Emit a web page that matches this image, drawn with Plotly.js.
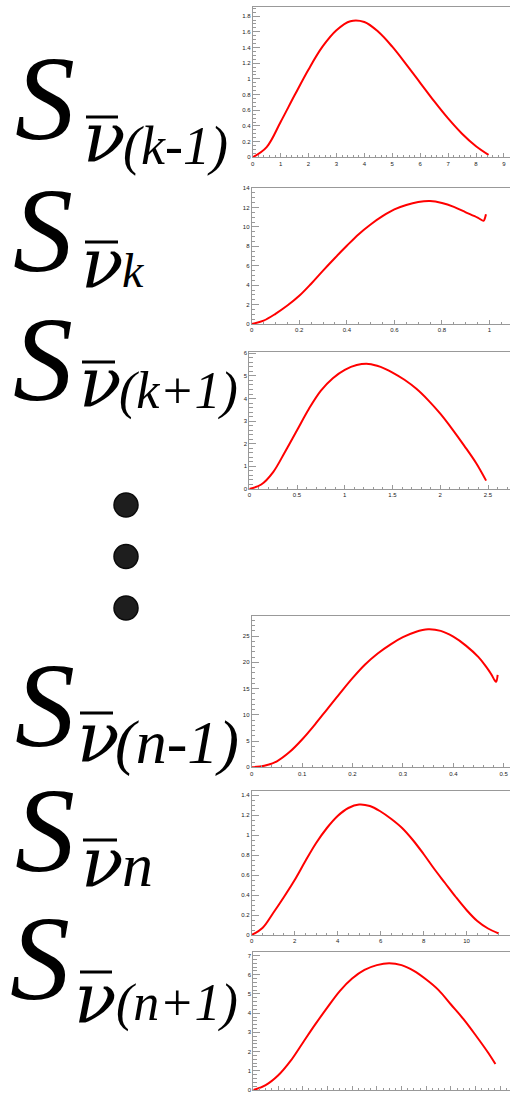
<!DOCTYPE html>
<html>
<head>
<meta charset="utf-8">
<script src="https://cdn.plot.ly/plotly-3.0.1.min.js"></script>
<style>
  html, body { margin: 0; padding: 0; background: #fff; }
  #chart { width: 510px; height: 1094px; }
</style>
</head>
<body>
<div id="chart"></div>
<script>
// spectra, top to bottom
const p1X = [0, 0.5, 1, 1.5, 2, 2.5, 3, 3.5, 4, 4.5, 5, 5.5, 6, 6.5, 7, 7.5, 8, 8.45];
const p1Y = [0, 0.13, 0.45, 0.79, 1.12, 1.41, 1.62, 1.735, 1.725, 1.60, 1.41, 1.185, 0.95, 0.715, 0.495, 0.30, 0.14, 0.03];

const p2X = [0, 0.05, 0.1, 0.15, 0.2, 0.25, 0.3, 0.35, 0.4, 0.45, 0.5, 0.55, 0.6, 0.65, 0.7, 0.75, 0.8, 0.85, 0.9, 0.95, 0.975, 0.98, 0.985];
const p2Y = [0, 0.35, 1.05, 1.9, 2.9, 4.15, 5.5, 6.8, 8.05, 9.25, 10.25, 11.1, 11.8, 12.25, 12.55, 12.65, 12.45, 12.05, 11.5, 10.95, 10.62, 10.85, 11.3];

const p3X = [0, 0.125, 0.25, 0.375, 0.5, 0.625, 0.75, 0.875, 1, 1.125, 1.25, 1.375, 1.5, 1.625, 1.75, 1.875, 2, 2.125, 2.25, 2.375, 2.48];
const p3Y = [0, 0.2, 0.75, 1.65, 2.6, 3.55, 4.35, 4.9, 5.27, 5.48, 5.53, 5.4, 5.15, 4.83, 4.43, 3.92, 3.33, 2.65, 1.92, 1.15, 0.37];

const p4X = [0, 0.025, 0.05, 0.075, 0.1, 0.125, 0.15, 0.175, 0.2, 0.225, 0.25, 0.275, 0.3, 0.325, 0.35, 0.375, 0.4, 0.425, 0.45, 0.465, 0.475, 0.482, 0.485, 0.488];
const p4Y = [0, 0.3, 1.15, 2.9, 5.3, 8.1, 11.1, 14.1, 17.0, 19.6, 21.7, 23.4, 24.8, 25.8, 26.3, 26.0, 24.9, 23.2, 21.0, 19.2, 17.8, 16.6, 16.3, 17.6];

const p5X = [0, 0.5, 1, 1.5, 2, 2.5, 3, 3.5, 4, 4.5, 5, 5.5, 6, 6.5, 7, 7.5, 8, 8.5, 9, 9.5, 10, 10.5, 11, 11.5];
const p5Y = [0, 0.07, 0.22, 0.38, 0.55, 0.74, 0.92, 1.07, 1.19, 1.27, 1.305, 1.29, 1.235, 1.16, 1.07, 0.95, 0.81, 0.66, 0.52, 0.38, 0.25, 0.14, 0.065, 0.015];

const p6X = [0, 0.1, 0.2, 0.3, 0.4, 0.5, 0.6, 0.7, 0.8, 0.9, 1, 1.1, 1.2, 1.3, 1.4, 1.5, 1.6, 1.7, 1.8, 1.9, 1.96];
const p6Y = [0, 0.25, 0.75, 1.5, 2.45, 3.4, 4.3, 5.15, 5.8, 6.25, 6.5, 6.6, 6.5, 6.2, 5.75, 5.2, 4.45, 3.7, 2.85, 1.95, 1.35];

const labelSubs = ['(k-1)', 'k', '(k+1)', '(n-1)', 'n', '(n+1)'];

const W = 510, H = 1094;
const px = v => v / W;
const py = v => 1 - v / H;

// panel frames in pixels: left, top, bottom (right edge is the page edge)
const frames = [
    { l: 252.7, t: 6.7, b: 157.3, xmax: 9.2, ymax: 1.92, dx: 1, mx: 0.2, dy: 0.2, my: 0.05 },
    { l: 251.7, t: 188, b: 324, xmax: 1.084, ymax: 14, dx: 0.2, mx: 0.05, dy: 2, my: 0.5 },
    { l: 249.3, t: 351.7, b: 489, xmax: 2.725, ymax: 6.07, dx: 0.5, mx: 0.1, dy: 1, my: 0.2 },
    { l: 251.7, t: 615.7, b: 767.3, xmax: 0.5115, ymax: 28.9, dx: 0.1, mx: 0.02, dy: 5, my: 1 },
    { l: 251.7, t: 791, b: 935, xmax: 12.0, ymax: 1.44, dx: 2, mx: 0.5, dy: 0.2, my: 0.05 },
    { l: 253.3, t: 951.7, b: 1090, xmax: 2.074, ymax: 7.2, dx: 0.2, mx: 0.05, dy: 1, my: 0.2 },
];
const series = [[p1X, p1Y], [p2X, p2Y], [p3X, p3Y], [p4X, p4Y], [p5X, p5Y], [p6X, p6Y]];

const tickFont = { family: 'Liberation Sans, Arial, sans-serif', size: 6, color: '#222' };
const axisBase = {
    showline: true, linecolor: '#999', linewidth: 1, mirror: true,
    showgrid: false, zeroline: false,
    ticks: 'inside', tickcolor: '#999', tickfont: tickFont,
    fixedrange: true,
};

const traces = [];
const layout = {
    width: W, height: H,
    margin: { l: 0, r: 0, t: 0, b: 0 },
    paper_bgcolor: '#fff', plot_bgcolor: '#fff',
    showlegend: false,
    annotations: [],
    shapes: [],
};

frames.forEach((f, i) => {
    const n = i + 1;
    const sfx = n === 1 ? '' : String(n);
    traces.push({
        x: series[i][0], y: series[i][1],
        type: 'scatter', mode: 'lines',
        line: { color: '#ff0000', width: 2, shape: 'spline', smoothing: 1 },
        xaxis: 'x' + sfx, yaxis: 'y' + sfx,
        hoverinfo: 'skip',
    });
    layout['xaxis' + sfx] = {
        ...axisBase,
        domain: [px(f.l), px(509.5)],
        anchor: 'y' + sfx,
        range: [0, f.xmax],
        dtick: f.dx, tick0: 0, ticklen: 4,
        minor: { dtick: f.mx, ticks: 'inside', ticklen: 2, tickcolor: '#999' },
    };
    layout['yaxis' + sfx] = {
        ...axisBase,
        domain: [py(f.b), py(f.t)],
        anchor: 'x' + sfx,
        range: [0, f.ymax],
        dtick: f.dy, tick0: 0, ticklen: 7,
        minor: { dtick: f.my, ticks: 'inside', ticklen: 3.5, tickcolor: '#999' },
    };
});

// S_{nu-bar ...} labels on the left
const labelPos = [
    { sx: 14, sBase: 140, nx: 82, nBase: 162, bar: [86, 118, 117], subx: 122, subBase: 165, subSize: 54 },
    { sx: 12, sBase: 272, nx: 80, nBase: 288, bar: [85, 118, 242], subx: 121, subBase: 288, subSize: 48 },
    { sx: 12, sBase: 401, nx: 78, nBase: 407, bar: [82, 115, 362], subx: 118, subBase: 410, subSize: 52 },
    { sx: 14, sBase: 747, nx: 76, nBase: 762, bar: [80, 113, 713], subx: 114, subBase: 765, subSize: 62 },
    { sx: 14, sBase: 872, nx: 80, nBase: 887, bar: [83, 117, 840], subx: 121, subBase: 887, subSize: 62 },
    { sx: 9, sBase: 1000, nx: 73, nBase: 1023, bar: [80, 112, 972], subx: 115, subBase: 1022, subSize: 52 },
];
const serif = 'Liberation Serif, Times New Roman, serif';
const greek = 'DejaVu Serif, serif';
function addText(text, x, base, size, family, desc) {
    layout.annotations.push({
        text: '<i>' + text + '</i>', showarrow: false,
        xref: 'paper', yref: 'paper',
        x: px(x), y: py(base + desc * size),
        xanchor: 'left', yanchor: 'bottom', borderpad: 0,
        font: { family, size, color: '#000' },
    });
}
labelPos.forEach((p, i) => {
    addText('S', p.sx, p.sBase, 120, serif, 0.216);
    addText('\u03bd', p.nx, p.nBase, 70, greek, 0.236);
    addText(labelSubs[i], p.subx, p.subBase, p.subSize, serif, 0.216);
    layout.shapes.push({
        type: 'line', xref: 'paper', yref: 'paper',
        x0: px(p.bar[0]), x1: px(p.bar[1]), y0: py(p.bar[2]), y1: py(p.bar[2]),
        line: { color: '#000', width: 3 },
    });
});

// vertical ellipsis
[505, 556.5, 608].forEach(cy => {
    layout.shapes.push({
        type: 'circle', xref: 'paper', yref: 'paper',
        x0: px(126 - 12), x1: px(126 + 12), y0: py(cy + 12), y1: py(cy - 12),
        fillcolor: '#1e1e1e', line: { color: '#0a0a0a', width: 1.5 },
    });
});

Plotly.newPlot('chart', traces, layout, { staticPlot: true, displayModeBar: false });
</script>
</body>
</html>
